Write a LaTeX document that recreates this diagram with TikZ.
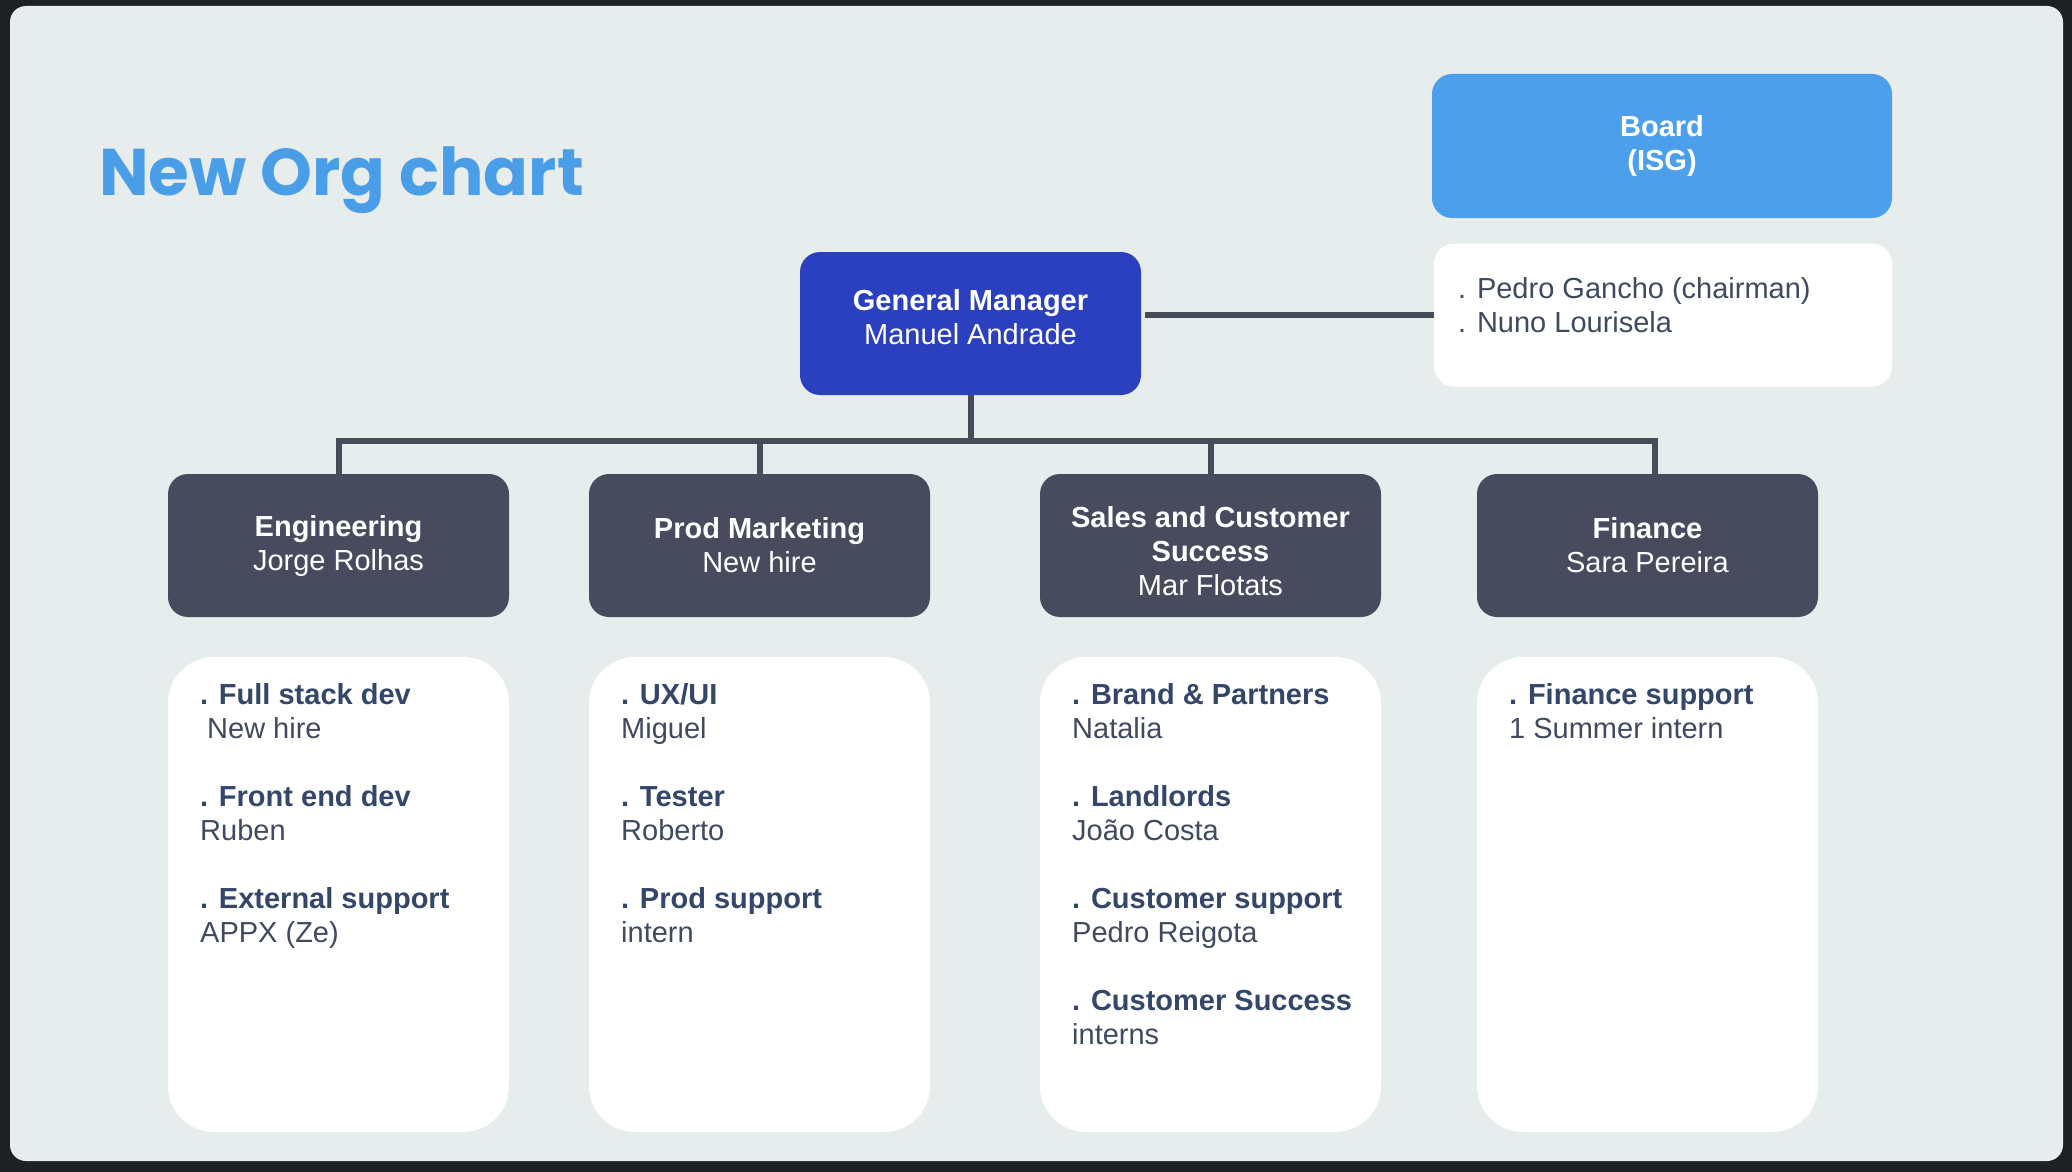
\documentclass[tikz,border=0pt]{standalone}
\usepackage{fontspec}
\setmainfont{Liberation Sans}
\newfontfamily\headfont{Poppins}
\usepackage{tikz}
\usetikzlibrary{positioning}
\definecolor{frame}{HTML}{1F2024}
\definecolor{slidebg}{HTML}{E7ECED}
\definecolor{titleblue}{HTML}{4A9EE8}
\definecolor{boardblue}{HTML}{4C9FEA}
\definecolor{gmblue}{HTML}{2B40BF}
\definecolor{deptgray}{HTML}{474B5D}
\definecolor{linkgray}{HTML}{474B5A}
\definecolor{listhead}{HTML}{34466A}
\definecolor{listname}{HTML}{3F4A60}
\newcommand{\orgtext}{\fontsize{29pt}{34pt}\selectfont}
\tikzset{
  head/.style={rectangle, rounded corners=20pt, text=white, align=center,
               font=\orgtext, inner sep=0pt},
  boardbox/.style={head, fill=boardblue, minimum width=460pt, minimum height=144pt},
  gmbox/.style={head, fill=gmblue, minimum width=341pt, minimum height=143pt},
  dept/.style={head, fill=deptgray, minimum width=341pt, minimum height=143pt},
  roster/.style={rectangle, rounded corners=46pt, fill=white, inner sep=0pt,
                 minimum width=341pt, minimum height=475pt},
  members/.style={rectangle, rounded corners=20pt, fill=white, inner sep=0pt,
                  minimum width=458pt, minimum height=143pt},
  names/.style={anchor=base west, align=left, inner sep=0pt, font=\orgtext, text=listname},
  link/.style={line width=6pt, draw=linkgray},
}

\begin{document}
\begin{tikzpicture}[x=1pt, y=-1pt]
  \useasboundingbox (0,0) rectangle (2072,1172);
  \fill[frame] (0,0) rectangle (2072,1172);
  \fill[slidebg, rounded corners=16pt] (10,6) rectangle (2063,1161);
  \node[anchor=base west, inner sep=0pt, text=titleblue,
        font=\headfont\bfseries\fontsize{66pt}{72pt}\selectfont] (title) at (99,195) {New Org chart};
  % top
  \node[boardbox] (board) at (1662,146) {\bfseries Board\\\bfseries (ISG)};
  \node[members] (brd) at (1663,315) {};
  \node[names] (brdtxt) at (1458,332) {. Pedro Gancho (chairman)\\. Nuno Lourisela};
  \node[gmbox] (gm) at (970.5,323.5) {\bfseries General Manager\\Manuel Andrade\rule[-14pt]{0pt}{0pt}};
  \draw[link] ([xshift=4pt]gm.east |- brd.west) -- (brd.west);
  % departments
  \node[dept] (eng) at (338.5,545.5) {\bfseries Engineering\\Jorge Rolhas};
  \node[dept] (prod) at (759.5,545.5) {\bfseries Prod Marketing\\New hire};
  \node[dept] (sales) at (1210.5,545.5) {\rule{0pt}{33pt}\bfseries Sales and Customer\\\bfseries Success\\Mar Flotats};
  \node[dept] (fin) at (1647.5,545.5) {\bfseries Finance\\Sara Pereira};
  \coordinate (finTop) at ([xshift=7pt]fin.north);
  \foreach \d in {eng.north,prod.north,sales.north,finTop}
    \draw[link] (gm.south) -- ++(0,46) -| (\d);
  % lists
  \node[roster] (engL) at (338.5,894.5) {};
  \node[roster] (prodL) at (759.5,894.5) {};
  \node[roster] (salesL) at (1210.5,894.5) {};
  \node[roster] (finL) at (1647.5,894.5) {};
  \node[names] (engT) at (200,942)
    {\textcolor{listhead}{\bfseries . Full stack dev}\\\hspace*{7pt}New hire\\[34pt]
     \textcolor{listhead}{\bfseries . Front end dev}\\Ruben\\[34pt]
     \textcolor{listhead}{\bfseries . External support}\\APPX (Ze)};
  \node[names] (prodT) at (621,942)
    {\textcolor{listhead}{\bfseries . UX/UI}\\Miguel\\[34pt]
     \textcolor{listhead}{\bfseries . Tester}\\Roberto\\[34pt]
     \textcolor{listhead}{\bfseries . Prod support}\\intern};
  \node[names] (salesT) at (1072,1044)
    {\textcolor{listhead}{\bfseries . Brand \& Partners}\\Natalia\\[34pt]
     \textcolor{listhead}{\bfseries . Landlords}\\João Costa\\[34pt]
     \textcolor{listhead}{\bfseries . Customer support}\\Pedro Reigota\\[34pt]
     \textcolor{listhead}{\bfseries . Customer Success}\\interns};
  \node[names] (finT) at (1509,738)
    {\textcolor{listhead}{\bfseries . Finance support}\\1 Summer intern};
\end{tikzpicture}
\end{document}
